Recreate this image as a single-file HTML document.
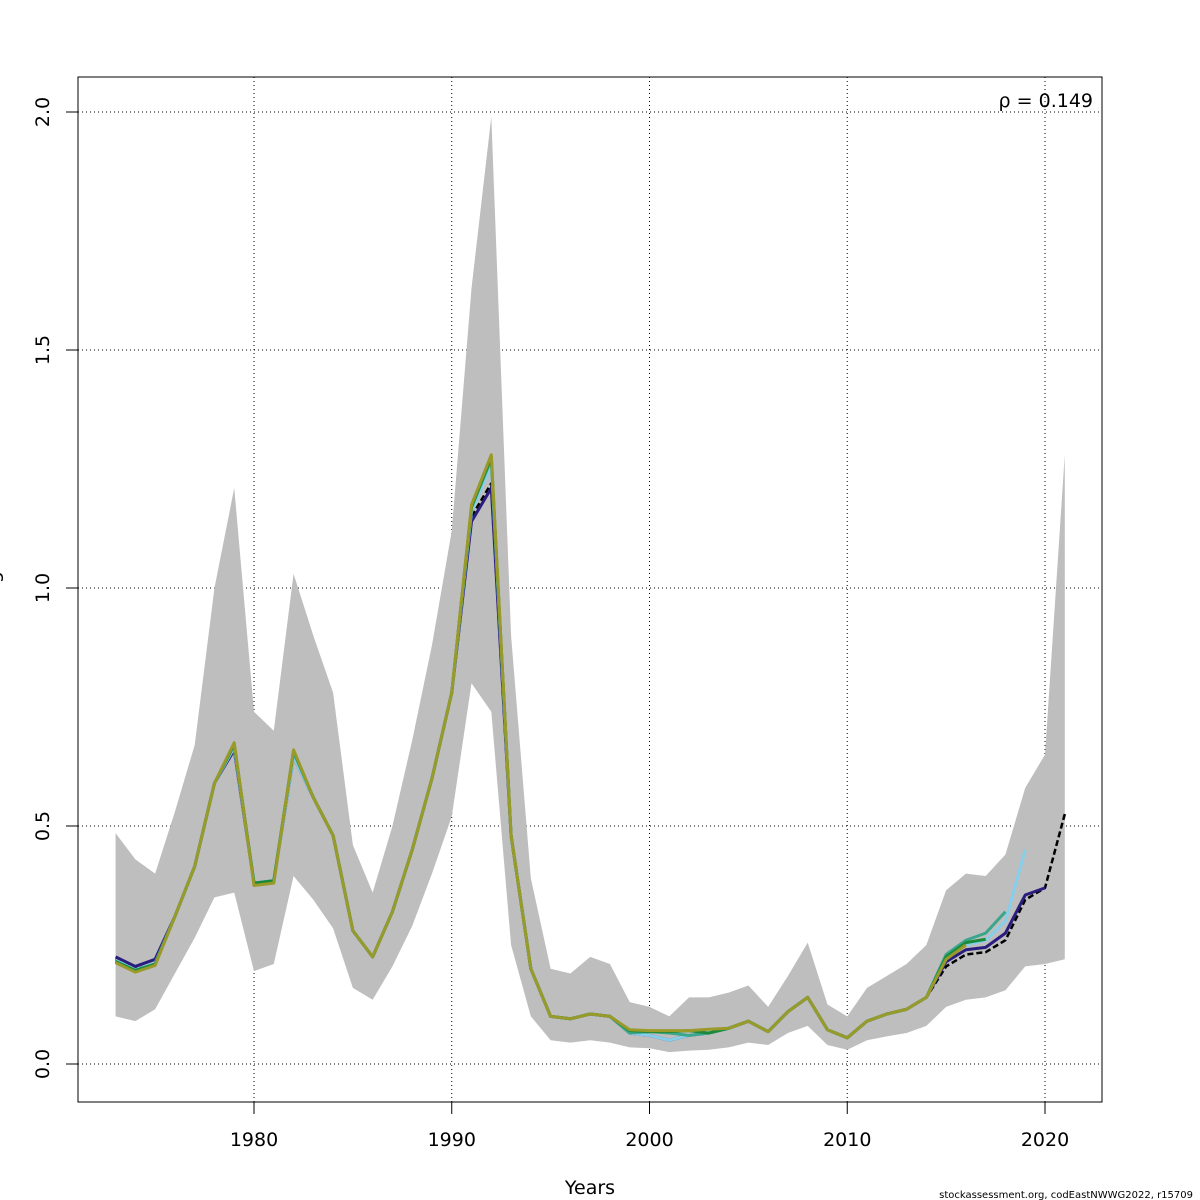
<!DOCTYPE html>
<html><head><meta charset="utf-8"><style>
html,body{margin:0;padding:0;background:#fff;}
svg{display:block;font-family:"DejaVu Sans","Liberation Sans",sans-serif;}
</style></head><body>
<svg id="chart" width="1200" height="1200" viewBox="0 0 1200 1200">
<g id="grid"></g>
<g id="band"></g>
<g id="lines"></g>
<rect x="78" y="77" width="1024" height="1025" fill="none" stroke="#000" stroke-width="1"/>
<g id="axes"></g>
<text x="1093" y="107" font-size="19" text-anchor="end">ρ = 0.149</text>
<text x="590" y="1194" font-size="19" text-anchor="middle">Years</text>
<text x="-7" y="590" font-size="19" text-anchor="middle" transform="rotate(-90 -7 590)" dy="6">Average F</text>
<text x="1193" y="1198" font-size="10" text-anchor="end">stockassessment.org, codEastNWWG2022, r15709</text>
</svg>
<script>
const years = [];
for (let y = 1973; y <= 2021; y++) years.push(y);
const baseF = [0.22,0.20,0.21,0.31,0.415,0.59,0.66,0.38,0.385,0.645,0.56,0.48,0.28,0.225,0.32,0.45,0.60,0.78,1.15,1.22,0.48,0.20,0.10,0.095,0.105,0.10,0.065,0.06,0.05,0.06,0.065,0.075,0.09,0.068,0.11,0.14,0.072,0.055,0.09,0.105,0.115,0.14,0.205,0.23,0.235,0.26,0.345,0.37,0.525];
const upperF = [0.485,0.43,0.40,0.53,0.67,1.0,1.21,0.74,0.70,1.03,0.90,0.78,0.46,0.36,0.50,0.68,0.88,1.12,1.63,1.99,0.90,0.39,0.20,0.19,0.225,0.21,0.13,0.12,0.10,0.14,0.14,0.15,0.165,0.12,0.185,0.255,0.125,0.10,0.16,0.185,0.21,0.25,0.365,0.40,0.395,0.44,0.58,0.65,1.28];
const lowerF = [0.10,0.09,0.115,0.19,0.265,0.35,0.36,0.195,0.21,0.395,0.345,0.285,0.16,0.135,0.205,0.29,0.40,0.52,0.80,0.74,0.25,0.10,0.05,0.045,0.05,0.045,0.035,0.033,0.025,0.028,0.03,0.035,0.045,0.04,0.065,0.08,0.04,0.03,0.05,0.058,0.065,0.08,0.12,0.135,0.14,0.155,0.205,0.21,0.22];
const peelEnds = [2020,2019,2018,2017,2016];
const peelColors = ['#2b1d7d','#87ceeb','#3aa68c','#1a8a3a','#9a9a2a'];
const peelOverrides = [
  {1973:0.225,1974:0.205,1975:0.22,1991:1.14,1992:1.21,2015:0.215,2016:0.24,2017:0.245,2018:0.275,2019:0.355,2020:0.37},
  {1973:0.218,1974:0.198,1975:0.212,1979:0.665,1991:1.16,1992:1.26,2001:0.05,2015:0.225,2016:0.25,2017:0.26,2018:0.30,2019:0.45},
  {1973:0.216,1974:0.197,1975:0.21,1979:0.67,1982:0.655,1991:1.17,1992:1.27,2000:0.068,2001:0.065,2015:0.23,2016:0.26,2017:0.275,2018:0.32},
  {1973:0.215,1974:0.196,1975:0.21,1979:0.672,1982:0.658,1991:1.17,1992:1.275,1999:0.07,2000:0.068,2001:0.068,2002:0.07,2015:0.225,2016:0.255,2017:0.262},
  {1973:0.213,1974:0.193,1975:0.207,1979:0.675,1980:0.375,1981:0.38,1982:0.66,1991:1.175,1992:1.28,1999:0.072,2000:0.07,2001:0.07,2002:0.07,2003:0.073,2015:0.22,2016:0.25}
];
const xTicks = [1980,1990,2000,2010,2020];
const yTicks = [0,0.5,1,1.5,2];
const yTickLabels = ['0.0','0.5','1.0','1.5','2.0'];

const X = yr => 254 + (yr - 1980) * 19.775;
const Y = v => 1064 - v * 476;
const NS = 'http://www.w3.org/2000/svg';
function mk(tag, parent, attrs){const e=document.createElementNS(NS,tag);for(const k in attrs)e.setAttribute(k,attrs[k]);parent.appendChild(e);return e;}

const grid = document.getElementById('grid');
xTicks.forEach(t=>{
  const l = mk('line',grid,{x1:X(t),x2:X(t),y1:77,y2:1102,stroke:'#000','stroke-width':1,'stroke-dasharray':'1,3'});
  
  
});
yTicks.forEach(t=>{
  const l = mk('line',grid,{x1:78,x2:1102,y1:Y(t),y2:Y(t),stroke:'#000','stroke-width':1,'stroke-dasharray':'1,3'});
  
  
});

const band = document.getElementById('band');
let pts = years.map((y,i)=>X(y)+','+Y(upperF[i]));
for (let i=years.length-1;i>=0;i--) pts.push(X(years[i])+','+Y(lowerF[i]));
const poly = mk('polygon',band,{points:pts.join(' '),fill:'#bebebe',stroke:'none'});



const lines = document.getElementById('lines');
const basePts = years.map((y,i)=>X(y)+','+Y(baseF[i])).join(' ');
const bw = mk('polyline',lines,{points:basePts,fill:'none',stroke:'#bebebe','stroke-width':3,'stroke-linejoin':'round'});


const bl = mk('polyline',lines,{points:basePts,fill:'none',stroke:'#000','stroke-width':2.5,'stroke-dasharray':'6,3','stroke-linejoin':'round'});



peelEnds.forEach((end,p)=>{
  const arr=[];
  years.forEach((y,i)=>{ if(y<=end){ const v = (peelOverrides[p][y]!==undefined)?peelOverrides[p][y]:baseF[i]; arr.push(X(y)+','+Y(v)); }});
  const pl = mk('polyline',lines,{points:arr.join(' '),fill:'none',stroke:peelColors[p],'stroke-width':3,'stroke-linejoin':'round'});
  
  
});

const axes = document.getElementById('axes');
xTicks.forEach(t=>{
  const l = mk('line',axes,{x1:X(t),x2:X(t),y1:1102,y2:1114,stroke:'#000'});
  
  
  const tx = mk('text',axes,{x:X(t),y:1146,'font-size':19,'text-anchor':'middle'});
  tx.textContent = t;
  
  
});
yTicks.forEach((t,i)=>{
  const l = mk('line',axes,{x1:66,x2:78,y1:Y(t),y2:Y(t),stroke:'#000'});
  
  
  const tx = mk('text',axes,{x:49,y:Y(t),'font-size':19,'text-anchor':'middle',transform:'rotate(-90 49 '+Y(t)+')'});
  tx.textContent = yTickLabels[i];
  
  
});
</script>
</body></html>
